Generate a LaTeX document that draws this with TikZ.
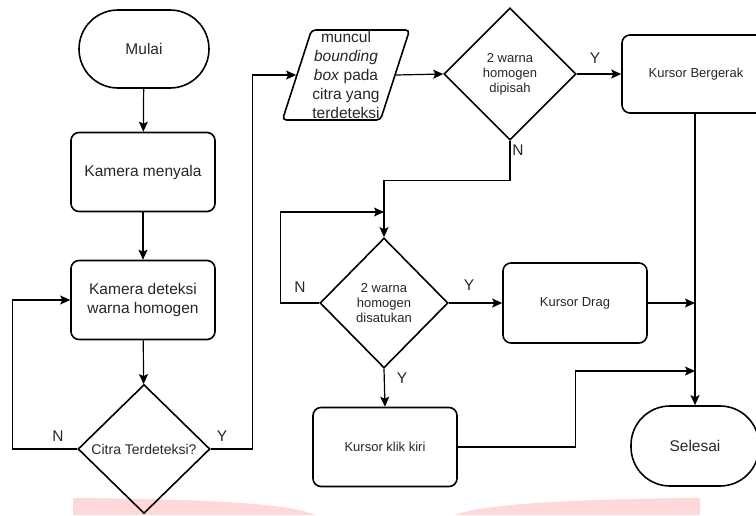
\documentclass[tikz,border=0pt]{standalone}
\usepackage{fontspec}
\setmainfont{Liberation Sans}
\usetikzlibrary{arrows.meta,positioning,shapes.geometric}

\begin{document}
\begin{tikzpicture}[x=1pt,y=-1pt,
    every node/.style={text=black!85,font=\fontsize{15.5}{19}\selectfont},
    term/.style={draw,line width=1.6pt,rounded corners=39pt,minimum width=130pt,minimum height=78pt,inner sep=0pt},
    proc/.style={draw,line width=1.6pt,rounded corners=8pt,minimum width=144pt,minimum height=79pt,align=center},
    dec/.style={draw,diamond,line width=1.6pt,inner sep=0pt,align=center},
    io/.style={draw,trapezium,trapezium left angle=72,trapezium right angle=108,line width=1.6pt,rounded corners=4pt,inner sep=0pt,minimum height=90pt,align=center},
    small/.style={font=\fontsize{13}{15}\selectfont},
    arr/.style={line width=1.2pt,-{Stealth[length=10pt,width=9pt,inset=2pt]}},
    link/.style={line width=1.2pt}
  ]
      \useasboundingbox (0,0) rectangle (756,515);
      % watermark at the bottom
      \fill[red!15] (73,515) -- (73,498) .. controls (200,499) and (290,503) .. (315,515) -- cycle;
      \fill[red!15] (455,515) .. controls (480,505) and (560,499) .. (700,498) -- (700,515) -- cycle;

      \node[term] (mulai) at (144,49) {Mulai};
      \node[proc] (nyala) at (143,172) {Kamera menyala};
      \node[proc] (deteksi) at (143,300) {Kamera deteksi\\warna homogen};
      \node[dec,minimum width=132pt,minimum height=129pt,font=\fontsize{14}{16}\selectfont] (citra) at (144,449) {Citra Terdeteksi?};
      \node[io] (muncul) at (346,75) {muncul\\\textit{bounding}\\\textit{box} pada\\citra yang\\terdeteksi};
      \node[dec,small,minimum width=132pt,minimum height=132pt] (dipisah) at (510,74) {2 warna\\homogen\\dipisah};
      \node[proc,small,minimum width=148pt,minimum height=78pt] (bergerak) at (696,74) {Kursor Bergerak};
      \node[dec,small,minimum width=128pt,minimum height=130pt] (disatukan) at (384,303) {2 warna\\homogen\\disatukan};
      \node[proc,small,minimum height=80pt] (drag) at (575,303) {Kursor Drag};
      \node[proc,small] (klik) at (385,447) {Kursor klik kiri};
      \node[term,minimum width=128pt,minimum height=80pt] (selesai) at (695,446) {Selesai};

      \coordinate (jn) at (384,212);
      \coordinate (m1) at (695,303);
      \coordinate (m2) at (695,371);

      \draw[arr] (mulai) -- (nyala);
      \draw[arr] (nyala) -- (deteksi);
      \draw[arr] (deteksi) -- (citra);
      \draw[arr] (citra.west) -- ++(-65,0) |- (deteksi.west);
      \draw[arr] (citra.east) -- ++(42,0) |- (muncul.west);
      \draw[arr] (muncul.east) -- (dipisah.west);
      \draw[arr] (dipisah.east) -- (bergerak.west);
      \draw[arr] (bergerak.south -| selesai.north) -- (selesai.north);
      \draw[arr] (dipisah.south) -- ++(0,40) -| (disatukan.north);
      \draw[arr] (disatukan.west) -- ++(-39,0) |- (jn);
      \draw[arr] (disatukan.east) -- (drag.west);
      \draw[arr] (drag.east) -- (m1);
      \draw[arr] (disatukan.south) -- (klik.north);
      \draw[arr] (klik.east) -- ++(118,0) |- (m2);

      \node (n1) at (58,436) {N};
      \node (y1) at (222,436) {Y};
      \node (y2) at (595,58) {Y};
      \node (n2) at (518,150) {N};
      \node (n3) at (300,287) {N};
      \node (y3) at (469,285) {Y};
      \node (y4) at (402,378) {Y};
    \end{tikzpicture}
\end{document}
